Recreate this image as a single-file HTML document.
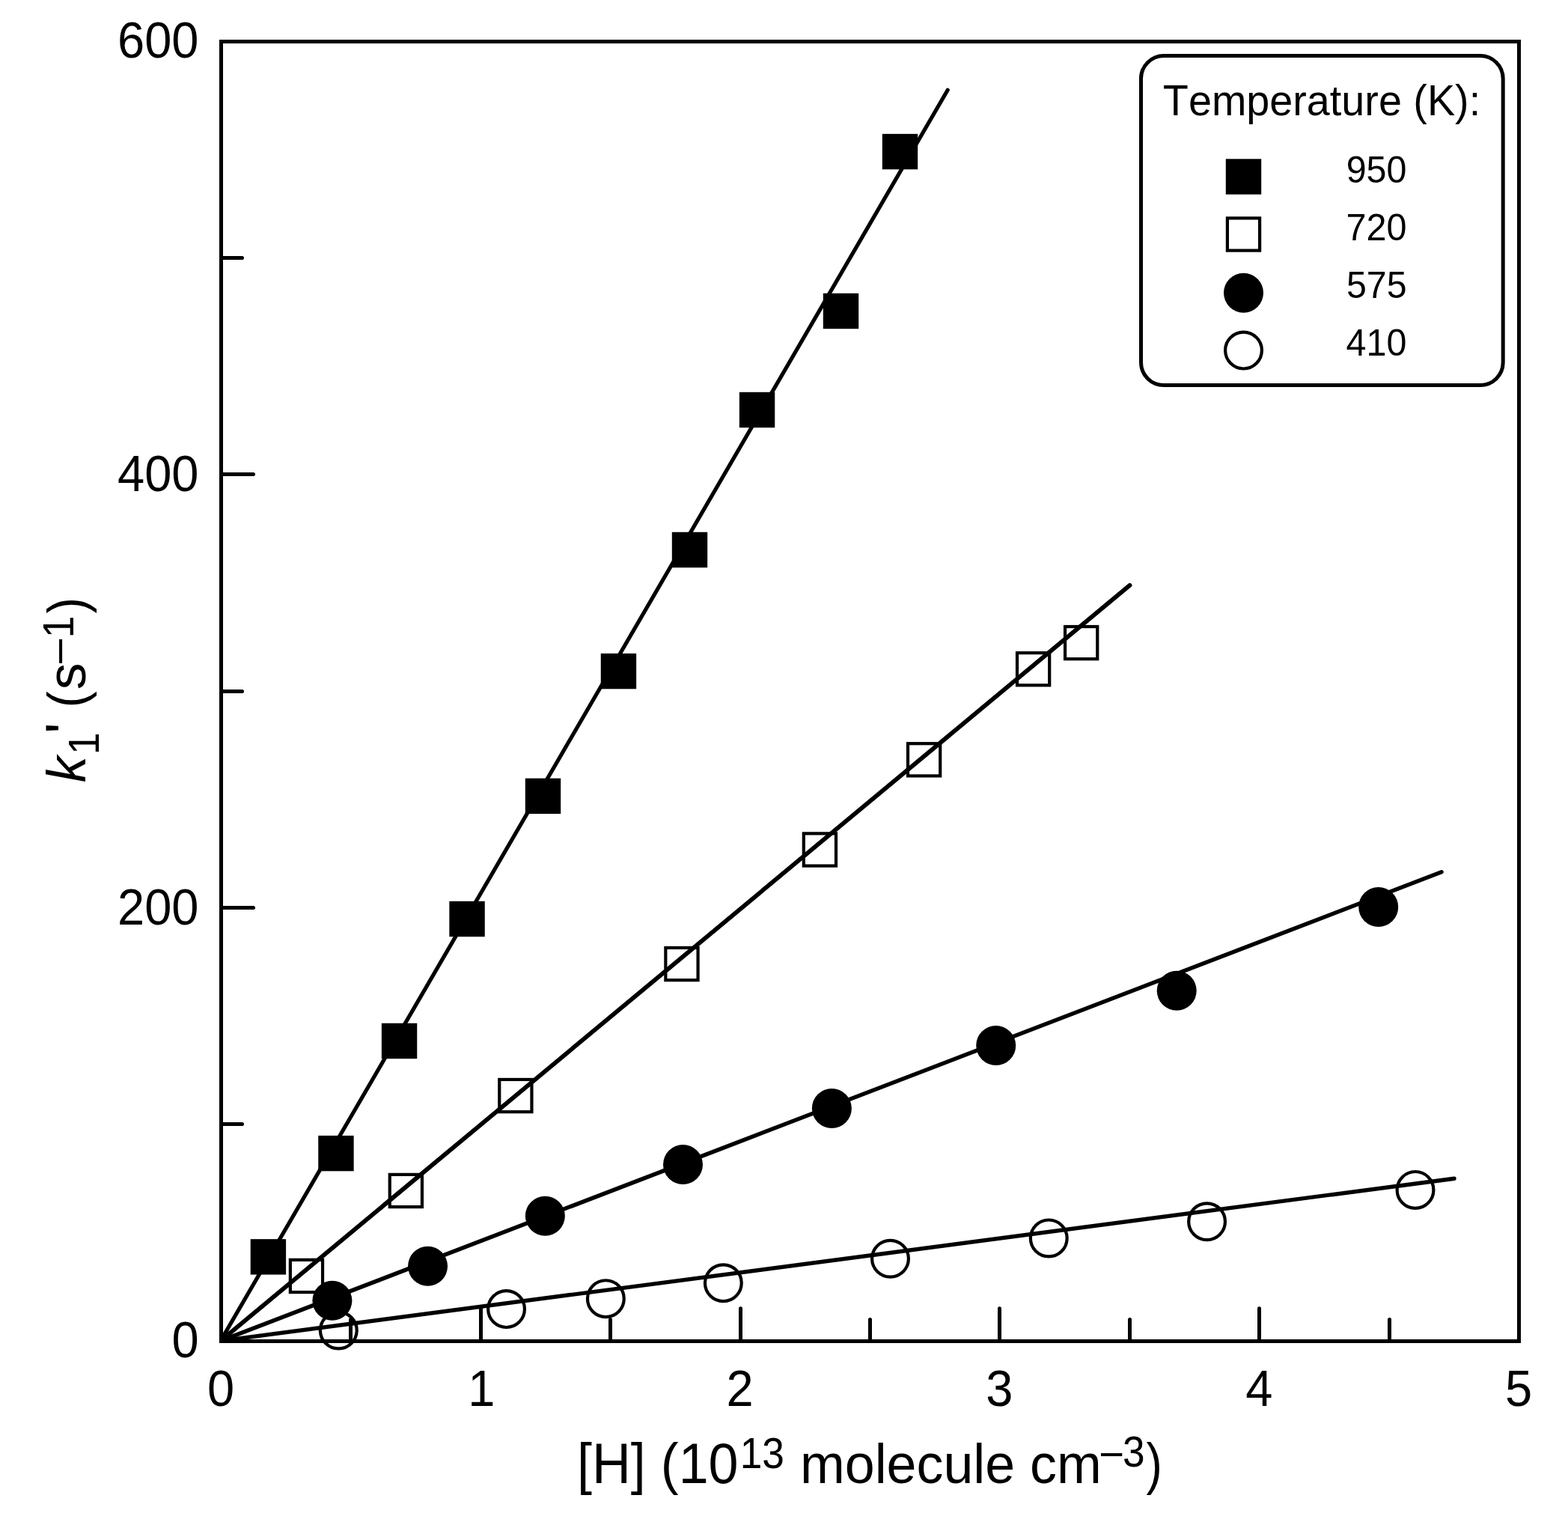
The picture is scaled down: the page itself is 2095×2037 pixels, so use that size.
<!DOCTYPE html>
<html><head><meta charset="utf-8"><title>k1' vs [H]</title>
<style>html,body{margin:0;padding:0;background:#fff}svg{display:block}text{font-family:"Liberation Sans",Arial,Helvetica,sans-serif;fill:#000;font-kerning:none;white-space:pre}</style></head><body>
<svg width="2095" height="2037" viewBox="0 0 2095 2037">
<rect width="2095" height="2037" fill="#fff"/>
<g stroke="#000" stroke-width="5" stroke-linecap="round" fill="none">
<line x1="468.5" y1="1791.5" x2="468.5" y2="1762.4"/>
<line x1="642.5" y1="1791.5" x2="642.5" y2="1747.7"/>
<line x1="815.5" y1="1791.5" x2="815.5" y2="1762.4"/>
<line x1="989.5" y1="1791.5" x2="989.5" y2="1747.7"/>
<line x1="1162.5" y1="1791.5" x2="1162.5" y2="1762.4"/>
<line x1="1335.5" y1="1791.5" x2="1335.5" y2="1747.7"/>
<line x1="1509.5" y1="1791.5" x2="1509.5" y2="1762.4"/>
<line x1="1682.5" y1="1791.5" x2="1682.5" y2="1747.7"/>
<line x1="1856.5" y1="1791.5" x2="1856.5" y2="1762.4"/>
<line x1="295.5" y1="1501.5" x2="323.5" y2="1501.5"/>
<line x1="295.5" y1="1212.5" x2="338.5" y2="1212.5"/>
<line x1="295.5" y1="923.5" x2="323.5" y2="923.5"/>
<line x1="295.5" y1="633.5" x2="338.5" y2="633.5"/>
<line x1="295.5" y1="344.5" x2="323.5" y2="344.5"/>
</g>
<rect x="295.5" y="55.5" width="1734.0" height="1736.0" fill="none" stroke="#000" stroke-width="5"/>
<clipPath id="plot"><rect x="293.0" y="53.0" width="1739.0" height="1741.0"/></clipPath>
<g stroke="#000" stroke-linecap="round" fill="none" clip-path="url(#plot)">
<line x1="294.7" y1="1791.1" x2="1266.2" y2="120.2" stroke-width="5.2"/>
<line x1="294.7" y1="1791.1" x2="1509.5" y2="781.8" stroke-width="5.8"/>
<line x1="294.7" y1="1791.1" x2="1926.0" y2="1164.8" stroke-width="5.5"/>
<line x1="294.7" y1="1791.1" x2="1943.0" y2="1574.2" stroke-width="5.4"/>
</g>
<g fill="none" stroke="#000" stroke-width="4.2">
<circle cx="452.30" cy="1777.00" r="24.40"/>
<circle cx="676.55" cy="1748.60" r="24.40"/>
<circle cx="809.35" cy="1734.65" r="24.40"/>
<circle cx="966.35" cy="1713.75" r="24.40"/>
<circle cx="1189.50" cy="1681.20" r="24.40"/>
<circle cx="1401.25" cy="1653.90" r="24.40"/>
<circle cx="1612.55" cy="1631.70" r="24.40"/>
<circle cx="1891.00" cy="1589.40" r="24.40"/>
<rect x="387.85" y="1682.85" width="43.20" height="43.20"/>
<rect x="520.75" y="1568.90" width="43.20" height="43.20"/>
<rect x="667.25" y="1441.95" width="43.20" height="43.20"/>
<rect x="889.35" y="1266.00" width="43.20" height="43.20"/>
<rect x="1073.80" y="1113.35" width="43.20" height="43.20"/>
<rect x="1213.00" y="993.20" width="43.20" height="43.20"/>
<rect x="1359.00" y="872.10" width="43.20" height="43.20"/>
<rect x="1423.05" y="837.00" width="43.20" height="43.20"/>
</g>
<g fill="#000">
<circle cx="443.90" cy="1737.35" r="26.50"/>
<circle cx="571.55" cy="1691.35" r="26.50"/>
<circle cx="728.35" cy="1624.15" r="26.50"/>
<circle cx="912.50" cy="1555.55" r="26.50"/>
<circle cx="1111.35" cy="1480.50" r="26.50"/>
<circle cx="1330.70" cy="1396.50" r="26.50"/>
<circle cx="1572.20" cy="1323.30" r="26.50"/>
<circle cx="1841.70" cy="1211.50" r="26.50"/>
<rect x="334.70" y="1655.15" width="47.40" height="47.40"/>
<rect x="425.25" y="1516.90" width="47.40" height="47.40"/>
<rect x="509.85" y="1366.75" width="47.40" height="47.40"/>
<rect x="600.35" y="1203.80" width="47.40" height="47.40"/>
<rect x="701.80" y="1039.65" width="47.40" height="47.40"/>
<rect x="802.75" y="872.85" width="47.40" height="47.40"/>
<rect x="897.80" y="710.75" width="47.40" height="47.40"/>
<rect x="987.85" y="523.80" width="47.40" height="47.40"/>
<rect x="1099.80" y="391.80" width="47.40" height="47.40"/>
<rect x="1178.80" y="178.85" width="47.40" height="47.40"/>
</g>
<rect x="1524.5" y="74.5" width="483.7" height="440.1" rx="30.5" ry="30.5" fill="#fff" stroke="#000" stroke-width="5"/>
<text transform="translate(1553.85,154.00) scale(1.0000,1.0429)" font-size="55.75">Temperature (K):</text>
<rect x="1637.80" y="212.30" width="47.4" height="47.4" fill="#000"/>
<rect x="1639.90" y="291.40" width="43.199999999999996" height="43.199999999999996" fill="#fff" stroke="#000" stroke-width="4.2"/>
<circle cx="1661.50" cy="391.2" r="26.5" fill="#000"/>
<circle cx="1661.50" cy="468.1" r="24.4" fill="#fff" stroke="#000" stroke-width="4.2"/>
<text transform="translate(1798.63,243.70) scale(1.0084,1.0417)" font-size="48.00">950</text>
<text transform="translate(1798.41,320.70) scale(1.0112,1.0417)" font-size="48.00">720</text>
<text transform="translate(1798.97,397.70) scale(1.0059,1.0417)" font-size="48.00">575</text>
<text transform="translate(1798.59,474.70) scale(1.0090,1.0417)" font-size="48.00">410</text>
<text transform="translate(229.39,1813.40) scale(1.0000,1.0443)" font-size="65.00">0</text>
<text transform="translate(157.09,1234.73) scale(1.0000,1.0443)" font-size="65.00">200</text>
<text transform="translate(157.09,656.07) scale(1.0000,1.0443)" font-size="65.00">400</text>
<text transform="translate(157.09,77.40) scale(1.0000,1.0443)" font-size="65.00">600</text>
<text transform="translate(276.93,1878.00) scale(1.0000,1.0443)" font-size="65.00">0</text>
<text transform="translate(625.23,1878.00) scale(1.0000,1.0443)" font-size="65.00">1</text>
<text transform="translate(970.53,1878.00) scale(1.0000,1.0443)" font-size="65.00">2</text>
<text transform="translate(1317.33,1878.00) scale(1.0000,1.0443)" font-size="65.00">3</text>
<text transform="translate(1664.13,1878.00) scale(1.0000,1.0443)" font-size="65.00">4</text>
<text transform="translate(2010.93,1878.00) scale(1.0000,1.0443)" font-size="65.00">5</text>
<text transform="translate(770.93,1981.00) scale(1.0010,1.0648)" font-size="71.80">[H] (10</text>
<text transform="translate(988.64,1961.00) scale(0.9966,1.0596)" font-size="53.50">13</text>
<text transform="translate(1068.93,1981.00) scale(0.9998,1.0324)" font-size="71.80">molecule cm</text>
<text transform="translate(1467.93,1961.90) scale(1.0888,1.0596)" font-size="53.50">−</text>
<text transform="translate(1499.88,1959.00) scale(0.9935,1.0596)" font-size="53.50">3</text>
<text transform="translate(1531.52,1981.00) scale(0.8930,1.0527)" font-size="71.80">)</text>
<text transform="translate(114.10,1045.27) rotate(-90) scale(0.9835,1.0041)" font-size="71.80" font-style="italic">k</text>
<text transform="translate(132.06,1008.03) rotate(-90) scale(1,1.0895)" font-size="53.50">1</text>
<text transform="translate(114.10,979.91) rotate(-90) scale(1.1006,1.0567)" font-size="71.80">'</text>
<text transform="translate(114.10,945.19) rotate(-90) scale(0.9193,1.0162)" font-size="71.80">(</text>
<text transform="translate(114.10,921.19) rotate(-90) scale(0.9966,1.0122)" font-size="71.80">s</text>
<text transform="translate(99.60,889.25) rotate(-90) scale(1.2311,1.0596)" font-size="53.50">−</text>
<text transform="translate(98.10,852.18) rotate(-90) scale(1,1.0895)" font-size="53.50">1</text>
<text transform="translate(114.10,819.38) rotate(-90) scale(0.9035,1.0162)" font-size="71.80">)</text>
</svg></body></html>
